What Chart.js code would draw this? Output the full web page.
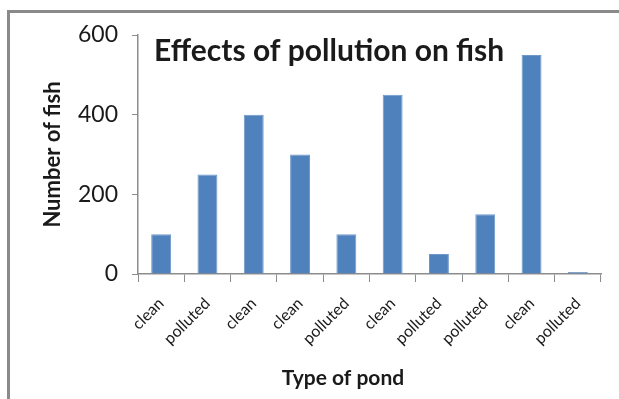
<!DOCTYPE html>
<html lang="en">
<head>
  <meta charset="UTF-8" />
  <title>Effects of pollution on fish</title>
  <script src="https://cdn.jsdelivr.net/npm/chart.js"></script>
  <style>
    html, body { margin: 0; padding: 0; background: #ffffff; }
    #wrap { position: relative; width: 619px; height: 399px; }
  </style>
</head>
<body>
  <div id="wrap">
    <canvas id="graficoPeixes" width="619" height="399"></canvas>
  </div>

  <script>
    // dados
    const pondTypes = ['clean', 'polluted', 'clean', 'clean', 'polluted', 'clean', 'polluted', 'polluted', 'clean', 'polluted'];
    const fishCounts = [100, 250, 400, 300, 100, 450, 50, 150, 550, 5];
    const yTicks = [0, 200, 400, 600];

    const chartTitle = 'Effects of pollution on fish';
    const xTitle = 'Type of pond';
    const yTitle = 'Number of fish';

    const axisColor = '#8c8c8c';
    const textColor = '#1a1a1a';

    // moldura cinza + titulos que o Excel posiciona fora do padrao
    const extras = {
      id: 'extras',
      beforeDraw(chart) {
        const ctx = chart.ctx;
        ctx.save();
        ctx.fillStyle = '#8a8a8a';
        ctx.fillRect(7, 10, 612, 3);
        ctx.fillRect(7, 10, 3, 389);
        ctx.restore();
      },
      afterDraw(chart) {
        const ctx = chart.ctx;
        const area = chart.chartArea;
        ctx.save();
        ctx.fillStyle = textColor;
        ctx.textBaseline = 'alphabetic';
        ctx.textAlign = 'left';
        ctx.font = 'bold 30px Lato';
        ctx.fillText(chartTitle, area.left + 16, 61);

        ctx.textAlign = 'center';
        ctx.font = 'bold 21px Lato';
        ctx.fillText(xTitle, 343, 385);
        ctx.restore();
      }
    };

    const dados = {
      labels: pondTypes,
      datasets: [{
        label: yTitle,
        data: fishCounts,
        backgroundColor: '#4f81bd',
        borderColor: '#6f98c9',
        borderWidth: 1,
        barPercentage: 0.43,
        categoryPercentage: 1.0
      }]
    };

    const config = {
      type: 'bar',
      data: dados,
      options: {
        responsive: false,
        animation: false,
        layout: { padding: { left: 0, top: 35, right: 18, bottom: 0 } },
        plugins: {
          legend: { display: false },
          title: { display: false },
          tooltip: { enabled: false }
        },
        scales: {
          x: {
            afterFit(scale) { scale.height = 125; },
            grid: {
              offset: true,
              drawOnChartArea: false,
              drawTicks: true,
              tickLength: 8,
              color: axisColor,
              lineWidth: 1
            },
            border: { display: true, color: axisColor, width: 1.5 },
            ticks: {
              minRotation: 45,
              maxRotation: 45,
              autoSkip: false,
              padding: 12,
              color: textColor,
              font: { family: 'Lato', size: 16 }
            }
          },
          y: {
            min: 0,
            max: 600,
            afterFit(scale) { scale.width = 138; },
            afterBuildTicks(scale) {
              scale.ticks = yTicks.map(v => ({ value: v }));
            },
            grid: {
              drawOnChartArea: false,
              drawTicks: true,
              tickLength: 6,
              color: axisColor,
              lineWidth: 1
            },
            border: { display: true, color: axisColor, width: 1.5 },
            ticks: {
              padding: 14,
              color: textColor,
              font: { family: 'Lato', size: 23 }
            },
            title: {
              display: true,
              text: yTitle,
              color: textColor,
              padding: { top: 40, bottom: 0 },
              font: { family: 'Lato', size: 22, weight: 'bold' }
            }
          }
        }
      },
      plugins: [extras]
    };

    new Chart(document.getElementById('graficoPeixes'), config);
  </script>
</body>
</html>
